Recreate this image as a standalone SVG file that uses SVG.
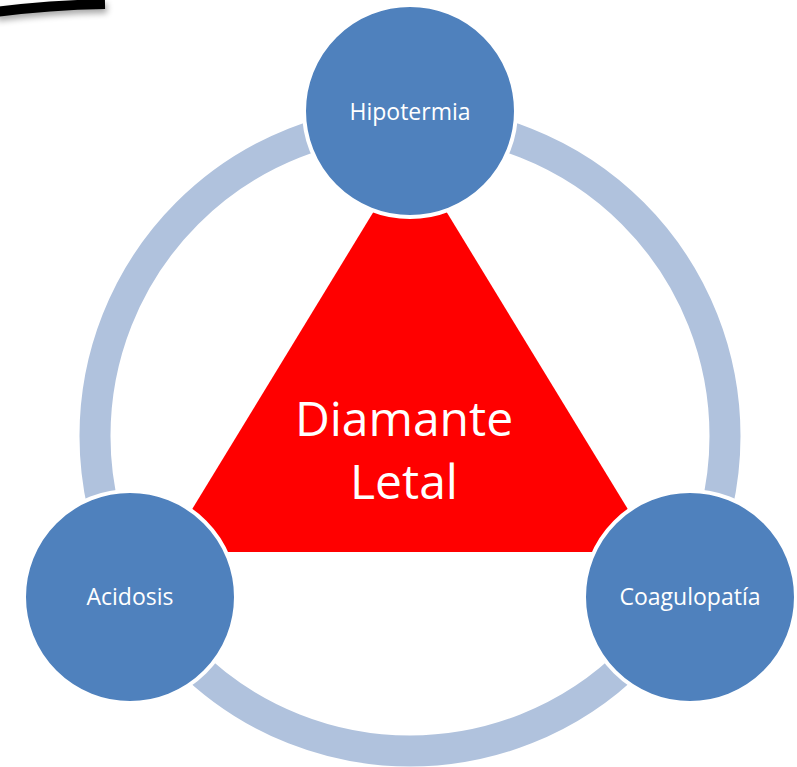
<svg xmlns="http://www.w3.org/2000/svg" width="797" height="767" viewBox="0 0 797 767">
<style>
.node{fill:#4F81BD;stroke:#fff;stroke-width:4}
.lbl{font-family:"Open Sans","Liberation Sans",sans-serif;font-size:23px;fill:#fff;text-anchor:middle}
.big{font-family:"Open Sans","Liberation Sans",sans-serif;font-size:48px;fill:#fff;text-anchor:middle}
</style>
<defs>
<filter id="sh" x="-20%" y="-100%" width="140%" height="400%">
<feGaussianBlur in="SourceAlpha" stdDeviation="3"/>
<feOffset dx="2" dy="4" result="b"/>
<feComponentTransfer><feFuncA type="linear" slope="0.35"/></feComponentTransfer>
<feMerge><feMergeNode/><feMergeNode in="SourceGraphic"/></feMerge>
</filter>
</defs>
<rect width="797" height="767" fill="#fff"/>
<path d="M-5,12 Q50,5 105,4" fill="none" stroke="#000" stroke-width="10" filter="url(#sh)"/>
<g id="connectors">
<circle cx="410" cy="436" r="315" fill="none" stroke="#B0C2DD" stroke-width="31"/>
</g>
<g id="center">
<polygon points="410,152 166,552 654,552" fill="#FF0000"/>
<text class="big" x="404" y="436">Diamante</text>
<text class="big" x="404" y="499">Letal</text>
</g>
<g id="hipotermia">
<circle class="node" cx="410" cy="111" r="106"/>
<text class="lbl" x="410" y="120">Hipotermia</text>
</g>
<g id="acidosis">
<circle class="node" cx="130" cy="597" r="106"/>
<text class="lbl" x="130" y="605">Acidosis</text>
</g>
<g id="coagulopatia">
<circle class="node" cx="690" cy="597" r="106"/>
<text class="lbl" x="690" y="605">Coagulopatía</text>
</g>
</svg>
